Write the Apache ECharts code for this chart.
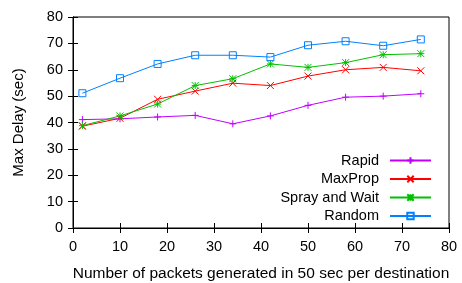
<!DOCTYPE html>
<html><head><meta charset="utf-8">
<script src="https://cdn.jsdelivr.net/npm/echarts@6/dist/echarts.min.js"></script>
<style>html,body{margin:0;padding:0;background:#fff}#c{width:462px;height:283px}</style>
</head><body><div id="c"></div>
<script>
var xValues = [2, 10, 18, 26, 34, 42, 50, 58, 66, 74];
var rapid = [41.1, 41.4, 42.1, 42.7, 39.5, 42.5, 46.5, 49.6, 50.0, 50.9];
var maxProp = [38.6, 41.6, 48.8, 51.9, 54.9, 54.0, 57.6, 60.0, 60.9, 59.6];
var sprayAndWait = [38.8, 42.5, 47.0, 54.0, 56.6, 62.2, 60.9, 62.7, 65.7, 66.1];
var randomDelay = [51.1, 56.8, 62.2, 65.5, 65.5, 64.8, 69.3, 70.8, 69.1, 71.5];
var seriesNames = ['Rapid', 'MaxProp', 'Spray and Wait', 'Random'];
var xName = 'Number of packets generated in 50 sec per destination';
var yName = 'Max Delay (sec)';

var colors = ['#c000ff', '#ff0000', '#00c000', '#0080ff'];
var symbols = [
  'path://M0,5L10,5M5,0L5,10',
  'path://M0,0L10,10M0,10L10,0',
  'path://M0,0L10,10M0,10L10,0M0,5L10,5M5,0L5,10',
  'path://M0,0L10,0L10,10L0,10Z'
];
var data = [rapid, maxProp, sprayAndWait, randomDelay];
var font = 'Liberation Sans';

function pairs(ys) { return xValues.map(function (x, i) { return [x, ys[i]]; }); }

var series = data.map(function (ys, i) {
  return {
    name: seriesNames[i], type: 'line', data: pairs(ys),
    symbol: symbols[i], symbolSize: 7,
    lineStyle: { color: colors[i], width: 1 },
    itemStyle: { color: 'none', borderColor: colors[i], borderWidth: 1 },
    emphasis: { disabled: true }, animation: false
  };
});

var chart = echarts.init(document.getElementById('c'), null, { renderer: 'canvas' });
chart.setOption({
  animation: false,
  grid: { left: 73, right: 13, top: 17, bottom: 55, outerBoundsMode: 'none', containLabel: false, show: true, borderColor: '#000', borderWidth: 1, backgroundColor: 'transparent' },
  legend: {
    orient: 'vertical', right: 25, top: 148, align: 'right',
    itemWidth: 41, itemHeight: 8, itemGap: 3.5,
    textStyle: { fontFamily: font, fontSize: 14.5, color: '#000', padding: [0, 6, 0, 0] },
    data: seriesNames
  },
  xAxis: [{
    type: 'value', min: 0, max: 80, interval: 10,
    name: xName, nameLocation: 'middle', nameGap: 38,
    nameTextStyle: { fontFamily: font, fontSize: 15.5, color: '#000' },
    axisLine: { lineStyle: { color: '#000' } },
    axisTick: { inside: true, length: 5, lineStyle: { color: '#000' } },
    axisLabel: { fontFamily: font, fontSize: 14.5, color: '#000', margin: 11 },
    splitLine: { show: false }
  }, {
    type: 'value', min: 0, max: 80, interval: 10, position: 'top',
    axisLine: { lineStyle: { color: '#000' } },
    axisTick: { inside: true, length: 5, lineStyle: { color: '#000' } },
    axisLabel: { show: false }, splitLine: { show: false }
  }],
  yAxis: [{
    type: 'value', min: 0, max: 80, interval: 10,
    name: yName, nameLocation: 'middle', nameGap: 47, nameRotate: 90,
    nameTextStyle: { fontFamily: font, fontSize: 15, color: '#000' },
    axisLine: { show: true, lineStyle: { color: '#000' } },
    axisTick: { show: true, inside: true, length: 5, lineStyle: { color: '#000' } },
    axisLabel: { fontFamily: font, fontSize: 14.5, color: '#000', margin: 10 },
    splitLine: { show: false }
  }, {
    type: 'value', min: 0, max: 80, interval: 10, position: 'right',
    axisLine: { show: true, lineStyle: { color: '#000' } },
    axisTick: { show: true, inside: true, length: 5, lineStyle: { color: '#000' } },
    axisLabel: { show: false }, splitLine: { show: false }
  }],
  series: series
});
</script></body></html>
